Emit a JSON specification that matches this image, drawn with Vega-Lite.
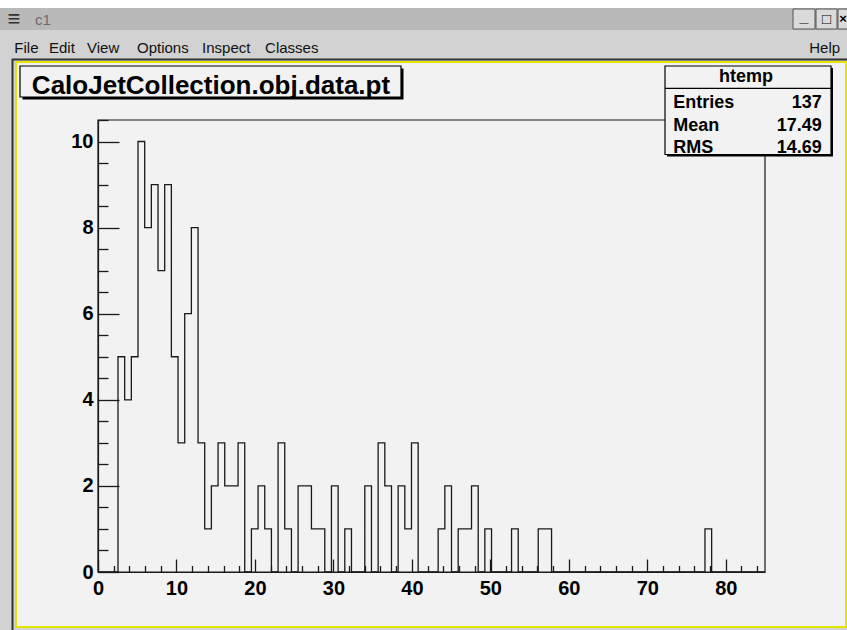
{
  "$schema": "https://vega.github.io/schema/vega-lite/v6.json",
  "width": 667,
  "height": 452,
  "autosize": {"type": "none"},
  "padding": {"left": 98, "top": 120, "right": 82, "bottom": 58},
  "background": "#d2d2d2",
  "config": {"view": {"stroke": null}, "font": "Liberation Sans"},
  "datasets": {
    "one": [{"id": 1}],
    "hist": [
      {"x": 0, "count": 0}, {"x": 0.85, "count": 0}, {"x": 1.7, "count": 0}, {"x": 2.55, "count": 5}, {"x": 3.4, "count": 4},
      {"x": 4.25, "count": 5}, {"x": 5.1, "count": 10}, {"x": 5.95, "count": 8}, {"x": 6.8, "count": 9}, {"x": 7.65, "count": 7},
      {"x": 8.5, "count": 9}, {"x": 9.35, "count": 5}, {"x": 10.2, "count": 3}, {"x": 11.05, "count": 6}, {"x": 11.9, "count": 8},
      {"x": 12.75, "count": 3}, {"x": 13.6, "count": 1}, {"x": 14.45, "count": 2}, {"x": 15.3, "count": 3}, {"x": 16.15, "count": 2},
      {"x": 17, "count": 2}, {"x": 17.85, "count": 3}, {"x": 18.7, "count": 0}, {"x": 19.55, "count": 1}, {"x": 20.4, "count": 2},
      {"x": 21.25, "count": 1}, {"x": 22.1, "count": 0}, {"x": 22.95, "count": 3}, {"x": 23.8, "count": 1}, {"x": 24.65, "count": 0},
      {"x": 25.5, "count": 2}, {"x": 26.35, "count": 2}, {"x": 27.2, "count": 1}, {"x": 28.05, "count": 1}, {"x": 28.9, "count": 0},
      {"x": 29.75, "count": 2}, {"x": 30.6, "count": 0}, {"x": 31.45, "count": 1}, {"x": 32.3, "count": 0}, {"x": 33.15, "count": 0},
      {"x": 34, "count": 2}, {"x": 34.85, "count": 0}, {"x": 35.7, "count": 3}, {"x": 36.55, "count": 2}, {"x": 37.4, "count": 0},
      {"x": 38.25, "count": 2}, {"x": 39.1, "count": 1}, {"x": 39.95, "count": 3}, {"x": 40.8, "count": 0}, {"x": 41.65, "count": 0},
      {"x": 42.5, "count": 0}, {"x": 43.35, "count": 1}, {"x": 44.2, "count": 2}, {"x": 45.05, "count": 0}, {"x": 45.9, "count": 1},
      {"x": 46.75, "count": 1}, {"x": 47.6, "count": 2}, {"x": 48.45, "count": 0}, {"x": 49.3, "count": 1}, {"x": 50.15, "count": 0},
      {"x": 51, "count": 0}, {"x": 51.85, "count": 0}, {"x": 52.7, "count": 1}, {"x": 53.55, "count": 0}, {"x": 54.4, "count": 0},
      {"x": 55.25, "count": 0}, {"x": 56.1, "count": 1}, {"x": 56.95, "count": 1}, {"x": 57.8, "count": 0}, {"x": 58.65, "count": 0},
      {"x": 59.5, "count": 0}, {"x": 60.35, "count": 0}, {"x": 61.2, "count": 0}, {"x": 62.05, "count": 0}, {"x": 62.9, "count": 0},
      {"x": 63.75, "count": 0}, {"x": 64.6, "count": 0}, {"x": 65.45, "count": 0}, {"x": 66.3, "count": 0}, {"x": 67.15, "count": 0},
      {"x": 68, "count": 0}, {"x": 68.85, "count": 0}, {"x": 69.7, "count": 0}, {"x": 70.55, "count": 0}, {"x": 71.4, "count": 0},
      {"x": 72.25, "count": 0}, {"x": 73.1, "count": 0}, {"x": 73.95, "count": 0}, {"x": 74.8, "count": 0}, {"x": 75.65, "count": 0},
      {"x": 76.5, "count": 0}, {"x": 77.35, "count": 1}, {"x": 78.2, "count": 0}, {"x": 79.05, "count": 0}, {"x": 79.9, "count": 0},
      {"x": 80.75, "count": 0}, {"x": 81.6, "count": 0}, {"x": 82.45, "count": 0}, {"x": 83.3, "count": 0}, {"x": 84.15, "count": 0},
      {"x": 85, "count": 0}
    ],
    "stats": [
      {"key": "Entries", "val": "137"},
      {"key": "Mean", "val": "17.49"},
      {"key": "RMS", "val": "14.69"}
    ]
  },
  "resolve": {"axis": {"x": "independent", "y": "independent"}},
  "layer": [
    {
      "data": {"name": "one"},
      "mark": {"type": "rect", "fill": "#ffffff"},
      "encoding": {
        "x": {"datum": -13.13, "type": "quantitative", "axis": null}, "x2": {"datum": 96.09},
        "y": {"datum": 13.5, "type": "quantitative", "axis": null}, "y2": {"datum": 13.1}
      }
    },
    {
      "data": {"name": "one"},
      "mark": {"type": "rect", "fill": "#b9b9b9"},
      "encoding": {
        "x": {"datum": -13.13, "type": "quantitative", "axis": null}, "x2": {"datum": 96.09},
        "y": {"datum": 13.101, "type": "quantitative", "axis": null}, "y2": {"datum": 12.59}
      }
    },
    {
      "data": {"name": "one"},
      "mark": {"type": "rect", "fill": "#dadada", "stroke": "#555555", "strokeWidth": 1},
      "encoding": {
        "x": {"datum": 88.569, "type": "quantitative", "axis": null}, "x2": {"datum": 91.373},
        "y": {"datum": 13.078, "type": "quantitative", "axis": null}, "y2": {"datum": 12.613}
      }
    },
    {
      "data": {"name": "one"},
      "mark": {"type": "rect", "fill": "#dadada", "stroke": "#555555", "strokeWidth": 1},
      "encoding": {
        "x": {"datum": 91.5, "type": "quantitative", "axis": null}, "x2": {"datum": 94.176},
        "y": {"datum": 13.078, "type": "quantitative", "axis": null}, "y2": {"datum": 12.613}
      }
    },
    {
      "data": {"name": "one"},
      "mark": {"type": "rect", "fill": "#dadada", "stroke": "#555555", "strokeWidth": 1},
      "encoding": {
        "x": {"datum": 94.304, "type": "quantitative", "axis": null}, "x2": {"datum": 96.09},
        "y": {"datum": 13.078, "type": "quantitative", "axis": null}, "y2": {"datum": 12.613}
      }
    },
    {
      "data": {"name": "one"},
      "mark": {"type": "text", "text": "_", "fontSize": 16, "fontWeight": "bold", "align": "center", "baseline": "middle", "color": "#000"},
      "encoding": {"x": {"datum": 89.97, "type": "quantitative", "axis": null}, "y": {"datum": 12.9, "type": "quantitative", "axis": null}}
    },
    {
      "data": {"name": "one"},
      "mark": {"type": "text", "text": "□", "fontSize": 15, "fontWeight": "bold", "align": "center", "baseline": "middle", "color": "#000"},
      "encoding": {"x": {"datum": 92.838, "type": "quantitative", "axis": null}, "y": {"datum": 12.846, "type": "quantitative", "axis": null}}
    },
    {
      "data": {"name": "one"},
      "mark": {"type": "text", "text": "×", "fontSize": 13, "fontWeight": "bold", "align": "center", "baseline": "middle", "color": "#000"},
      "encoding": {"x": {"datum": 94.95, "type": "quantitative", "axis": null}, "y": {"datum": 12.846, "type": "quantitative", "axis": null}}
    },
    {
      "data": {"name": "one"},
      "mark": {"type": "text", "text": "≡", "fontSize": 22, "align": "center", "baseline": "middle", "color": "#333333"},
      "encoding": {"x": {"datum": -10.705, "type": "quantitative", "axis": null}, "y": {"datum": 12.846, "type": "quantitative", "axis": null}}
    },
    {
      "data": {"name": "one"},
      "mark": {"type": "text", "text": "c1", "fontSize": 15, "align": "left", "baseline": "middle", "color": "#6a6a6a"},
      "encoding": {"x": {"datum": -8.029, "type": "quantitative", "axis": null}, "y": {"datum": 12.834, "type": "quantitative", "axis": null}}
    },
    {
      "data": {"name": "one"},
      "mark": {"type": "text", "text": "File", "fontSize": 15, "align": "left", "baseline": "alphabetic", "color": "#111111"},
      "encoding": {"x": {"datum": -10.66, "type": "quantitative", "axis": null}, "y": {"datum": 12.056, "type": "quantitative", "axis": null}}
    },
    {
      "data": {"name": "one"},
      "mark": {"type": "text", "text": "Edit", "fontSize": 15, "align": "left", "baseline": "alphabetic", "color": "#111111"},
      "encoding": {"x": {"datum": -6.245, "type": "quantitative", "axis": null}, "y": {"datum": 12.056, "type": "quantitative", "axis": null}}
    },
    {
      "data": {"name": "one"},
      "mark": {"type": "text", "text": "View", "fontSize": 15, "align": "left", "baseline": "alphabetic", "color": "#111111"},
      "encoding": {"x": {"datum": -1.402, "type": "quantitative", "axis": null}, "y": {"datum": 12.056, "type": "quantitative", "axis": null}}
    },
    {
      "data": {"name": "one"},
      "mark": {"type": "text", "text": "Options", "fontSize": 15, "align": "left", "baseline": "alphabetic", "color": "#111111"},
      "encoding": {"x": {"datum": 4.97, "type": "quantitative", "axis": null}, "y": {"datum": 12.056, "type": "quantitative", "axis": null}}
    },
    {
      "data": {"name": "one"},
      "mark": {"type": "text", "text": "Inspect", "fontSize": 15, "align": "left", "baseline": "alphabetic", "color": "#111111"},
      "encoding": {"x": {"datum": 13.26, "type": "quantitative", "axis": null}, "y": {"datum": 12.056, "type": "quantitative", "axis": null}}
    },
    {
      "data": {"name": "one"},
      "mark": {"type": "text", "text": "Classes", "fontSize": 15, "align": "left", "baseline": "alphabetic", "color": "#111111"},
      "encoding": {"x": {"datum": 21.29, "type": "quantitative", "axis": null}, "y": {"datum": 12.056, "type": "quantitative", "axis": null}}
    },
    {
      "data": {"name": "one"},
      "mark": {"type": "text", "text": "Help", "fontSize": 15, "align": "right", "baseline": "alphabetic", "color": "#111111"},
      "encoding": {"x": {"datum": 94.572, "type": "quantitative", "axis": null}, "y": {"datum": 12.056, "type": "quantitative", "axis": null}}
    },
    {
      "data": {"name": "one"},
      "mark": {"type": "rect", "filled": false, "stroke": "#333333", "strokeWidth": 2},
      "encoding": {
        "x": {"datum": -10.896, "type": "quantitative", "axis": null}, "x2": {"datum": 95.705},
        "y": {"datum": 11.905, "type": "quantitative", "axis": null}, "y2": {"datum": -1.394}
      }
    },
    {
      "data": {"name": "one"},
      "mark": {"type": "rect", "fill": "#f2f2f2", "stroke": "#e4e400", "strokeWidth": 2},
      "encoding": {
        "x": {"datum": -10.45, "type": "quantitative", "axis": null}, "x2": {"datum": 95.323},
        "y": {"datum": 11.847, "type": "quantitative", "axis": null}, "y2": {"datum": -1.278}
      }
    },
    {
      "data": {"name": "one"},
      "mark": {"type": "rect", "filled": false, "stroke": "#1a1a1a", "strokeWidth": 1.2},
      "encoding": {
        "x": {"datum": 0, "type": "quantitative", "axis": null}, "x2": {"datum": 85},
        "y": {"datum": 0, "type": "quantitative", "axis": null}, "y2": {"datum": 10.5}
      }
    },
    {
      "data": {"name": "hist"},
      "mark": {"type": "line", "interpolate": "step-after", "stroke": "#1a1a1a", "strokeWidth": 1.3},
      "encoding": {
        "x": {
          "field": "x", "type": "quantitative",
          "scale": {"domain": [0, 85], "nice": false, "zero": false},
          "axis": {
            "orient": "bottom", "values": [0, 10, 20, 30, 40, 50, 60, 70, 80], "format": "d",
            "tickSize": -13, "tickWidth": 1.3, "tickColor": "#1a1a1a", "labelPadding": 19,
            "labelFont": "Liberation Sans", "labelFontSize": 20, "labelFontWeight": "bold", "labelColor": "#000000",
            "labelFlush": false, "labelOverlap": false, "domainColor": "#1a1a1a", "domainWidth": 1.2,
            "grid": false, "title": null, "zindex": 1
          }
        },
        "y": {
          "field": "count", "type": "quantitative",
          "scale": {"domain": [0, 10.5], "nice": false, "zero": false},
          "axis": {
            "orient": "left", "values": [0, 2, 4, 6, 8, 10], "format": "d",
            "tickSize": -21, "tickWidth": 1.3, "tickColor": "#1a1a1a", "labelPadding": 26,
            "labelFont": "Liberation Sans", "labelFontSize": 20, "labelFontWeight": "bold", "labelColor": "#000000",
            "labelFlush": false, "labelOverlap": false, "domainColor": "#1a1a1a", "domainWidth": 1.2,
            "grid": false, "title": null, "zindex": 1
          }
        }
      }
    },
    {
      "data": {"name": "hist"},
      "mark": {"type": "line", "strokeOpacity": 0},
      "encoding": {
        "x": {
          "field": "x", "type": "quantitative",
          "axis": {
            "orient": "bottom",
            "values": [2, 4, 6, 8, 12, 14, 16, 18, 22, 24, 26, 28, 32, 34, 36, 38, 42, 44, 46, 48, 52, 54, 56, 58, 62, 64, 66, 68, 72, 74, 76, 78, 82, 84],
            "tickSize": -6.5, "tickWidth": 1.3, "tickColor": "#1a1a1a", "labels": false, "domain": false,
            "grid": false, "title": null, "zindex": 1
          }
        },
        "y": {
          "field": "count", "type": "quantitative",
          "axis": {
            "orient": "left",
            "values": [0.5, 1, 1.5, 2.5, 3, 3.5, 4.5, 5, 5.5, 6.5, 7, 7.5, 8.5, 9, 9.5, 10.5],
            "tickSize": -10, "tickWidth": 1.3, "tickColor": "#1a1a1a", "labels": false, "domain": false,
            "grid": false, "title": null, "zindex": 1
          }
        }
      }
    },
    {
      "data": {"name": "one"},
      "mark": {"type": "rect", "fill": "#000000"},
      "encoding": {
        "x": {"datum": -9.62, "type": "quantitative", "axis": null}, "x2": {"datum": 38.932},
        "y": {"datum": 11.696, "type": "quantitative", "axis": null}, "y2": {"datum": 10.976}
      }
    },
    {
      "data": {"name": "one"},
      "mark": {"type": "rect", "fill": "#f2f2f2", "stroke": "#000000", "strokeWidth": 1.2},
      "encoding": {
        "x": {"datum": -9.94, "type": "quantitative", "axis": null}, "x2": {"datum": 38.613},
        "y": {"datum": 11.754, "type": "quantitative", "axis": null}, "y2": {"datum": 11.034}
      }
    },
    {
      "data": {"name": "one"},
      "mark": {"type": "text", "text": "CaloJetCollection.obj.data.pt", "fontSize": 26, "fontWeight": "bold", "align": "center", "baseline": "alphabetic", "color": "#000000"},
      "encoding": {"x": {"datum": 14.4, "type": "quantitative", "axis": null}, "y": {"datum": 11.11, "type": "quantitative", "axis": null}}
    },
    {
      "data": {"name": "one"},
      "mark": {"type": "rect", "fill": "#000000"},
      "encoding": {
        "x": {"datum": 72.512, "type": "quantitative", "axis": null}, "x2": {"datum": 93.667},
        "y": {"datum": 11.707, "type": "quantitative", "axis": null}, "y2": {"datum": 9.652}
      }
    },
    {
      "data": {"name": "one"},
      "mark": {"type": "rect", "fill": "#f2f2f2", "stroke": "#000000", "strokeWidth": 1.2},
      "encoding": {
        "x": {"datum": 72.257, "type": "quantitative", "axis": null}, "x2": {"datum": 93.412},
        "y": {"datum": 11.754, "type": "quantitative", "axis": null}, "y2": {"datum": 9.698}
      }
    },
    {
      "data": {"name": "one"},
      "mark": {"type": "rule", "stroke": "#000000", "strokeWidth": 1.2},
      "encoding": {
        "x": {"datum": 72.257, "type": "quantitative", "axis": null}, "x2": {"datum": 93.412},
        "y": {"datum": 11.236, "type": "quantitative", "axis": null}
      }
    },
    {
      "data": {"name": "one"},
      "mark": {"type": "text", "text": "htemp", "fontSize": 18, "fontWeight": "bold", "align": "center", "baseline": "alphabetic", "color": "#000000"},
      "encoding": {"x": {"datum": 82.58, "type": "quantitative", "axis": null}, "y": {"datum": 11.389, "type": "quantitative", "axis": null}}
    },
    {
      "data": {"name": "stats"},
      "transform": [{"filter": "datum.key === 'Entries'"}],
      "mark": {"type": "text", "fontSize": 18, "fontWeight": "bold", "align": "left", "baseline": "alphabetic", "color": "#000000"},
      "encoding": {"text": {"field": "key"}, "x": {"datum": 73.315, "type": "quantitative", "axis": null}, "y": {"datum": 10.771, "type": "quantitative", "axis": null}}
    },
    {
      "data": {"name": "stats"},
      "transform": [{"filter": "datum.key === 'Entries'"}],
      "mark": {"type": "text", "fontSize": 18, "fontWeight": "bold", "align": "right", "baseline": "alphabetic", "color": "#000000"},
      "encoding": {"text": {"field": "val"}, "x": {"datum": 92.227, "type": "quantitative", "axis": null}, "y": {"datum": 10.771, "type": "quantitative", "axis": null}}
    },
    {
      "data": {"name": "stats"},
      "transform": [{"filter": "datum.key === 'Mean'"}],
      "mark": {"type": "text", "fontSize": 18, "fontWeight": "bold", "align": "left", "baseline": "alphabetic", "color": "#000000"},
      "encoding": {"text": {"field": "key"}, "x": {"datum": 73.315, "type": "quantitative", "axis": null}, "y": {"datum": 10.251, "type": "quantitative", "axis": null}}
    },
    {
      "data": {"name": "stats"},
      "transform": [{"filter": "datum.key === 'Mean'"}],
      "mark": {"type": "text", "fontSize": 18, "fontWeight": "bold", "align": "right", "baseline": "alphabetic", "color": "#000000"},
      "encoding": {"text": {"field": "val"}, "x": {"datum": 92.227, "type": "quantitative", "axis": null}, "y": {"datum": 10.251, "type": "quantitative", "axis": null}}
    },
    {
      "data": {"name": "stats"},
      "transform": [{"filter": "datum.key === 'RMS'"}],
      "mark": {"type": "text", "fontSize": 18, "fontWeight": "bold", "align": "left", "baseline": "alphabetic", "color": "#000000"},
      "encoding": {"text": {"field": "key"}, "x": {"datum": 73.315, "type": "quantitative", "axis": null}, "y": {"datum": 9.74, "type": "quantitative", "axis": null}}
    },
    {
      "data": {"name": "stats"},
      "transform": [{"filter": "datum.key === 'RMS'"}],
      "mark": {"type": "text", "fontSize": 18, "fontWeight": "bold", "align": "right", "baseline": "alphabetic", "color": "#000000"},
      "encoding": {"text": {"field": "val"}, "x": {"datum": 92.227, "type": "quantitative", "axis": null}, "y": {"datum": 9.74, "type": "quantitative", "axis": null}}
    }
  ]
}
